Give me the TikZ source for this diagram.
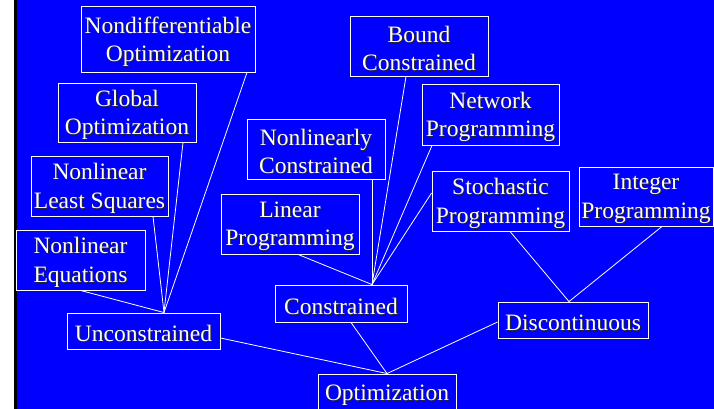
\documentclass[tikz,border=0pt]{standalone}
\usepackage{fontspec}
\setmainfont{Liberation Serif}
\newfontfamily\labelfont{Liberation Serif}
\usetikzlibrary{calc}

\tikzset{
  box/.style={draw=white, line width=0.9pt, inner sep=0pt},
  labeltext/.style={inner sep=0pt, align=center, text=white,
    font=\labelfont\fontsize{23.5}{28.5}\selectfont},
  shadowtext/.style={labeltext, text=black!85},
  link/.style={draw=white, line width=0.8pt},
}

% name, centre x, centre y, width, height, label
\newcommand{\labelbox}[6]{%
  \node[box, minimum width=#4pt, minimum height=#5pt] (#1) at (#2,#3) {};
  \node[shadowtext] at ($(#1.center)+(1,3.5)$) {#6};
  \node[labeltext] (#1-label) at ($(#1.center)+(0,2.5)$) {#6};
}

\begin{document}
\begin{tikzpicture}[x=1pt, y=-1pt]
  % page and frame
  \useasboundingbox (0,0) rectangle (714,409);
  \fill[white] (0,0) rectangle (14,409);
  \fill[black] (14,0) rectangle (16.5,409);
  \fill[blue] (16.5,0) rectangle (714,409);

  % unconstrained branch
  \labelbox{nondiff}{168}{39}{174}{66}{Nondifferentiable\\Optimization}
  \labelbox{global}{127}{112.5}{138}{59}{Global\\Optimization}
  \labelbox{lsq}{99.5}{186}{137}{60}{Nonlinear\\Least Squares}
  \labelbox{neq}{80.5}{260}{129}{60}{Nonlinear\\Equations}
  \labelbox{uncon}{143.5}{331}{153}{36}{Unconstrained}

  % constrained branch
  \labelbox{bound}{419}{46}{138}{60}{Bound\\Constrained}
  \labelbox{network}{490.5}{114.5}{137}{61}{Network\\Programming}
  \labelbox{nlc}{316}{149}{138}{60}{Nonlinearly\\Constrained}
  \labelbox{linear}{290}{224}{138}{60}{Linear\\Programming}
  \labelbox{stoch}{500.5}{201}{137}{60}{Stochastic\\Programming}
  \labelbox{con}{341}{303.5}{132}{37}{Constrained}

  % discontinuous branch
  \labelbox{integer}{646}{196.5}{134}{59}{Integer\\Programming}
  \labelbox{discont}{573}{320}{150}{36}{Discontinuous}

  % root
  \labelbox{opt}{387}{392.5}{138}{37}{Optimization}

  % joining points
  \coordinate (uncon-top) at ($(uncon.north)+(20.5,0)$);
  \coordinate (con-top) at ($(con.north)+(31,0)$);
  \coordinate (disc-top) at ($(discont.north)+(-4,0)$);

  % connectors
  \draw[link] ($(nondiff.south)+(79,0)$) -- (uncon-top);
  \draw[link] ($(global.south)+(56,0)$) -- (uncon-top);
  \draw[link] ($(lsq.south)+(53.5,0)$) -- (uncon-top);
  \draw[link] (neq.south) -- (uncon-top);

  \draw[link] ($(bound.south)+(-13,0)$) -- (con-top);
  \draw[link] ($(network.south)+(-58.5,0)$) -- (con-top);
  \draw[link] ($(nlc.south)+(56,0)$) -- (con-top);
  \draw[link] ($(linear.south)+(8,0)$) -- (con-top);
  \draw[link] ($(stoch.west)+(0,-8)$) -- (con-top);

  \draw[link] ($(stoch.south)+(9.5,0)$) -- (disc-top);
  \draw[link] ($(integer.south)+(16,0)$) -- (disc-top);

  \draw[link] ($(uncon.east)+(0,7)$) -- (opt.north);
  \draw[link] ($(con.south)+(10,0)$) -- (opt.north);
  \draw[link] ($(discont.west)+(0,2)$) -- (opt.north);
\end{tikzpicture}
\end{document}
